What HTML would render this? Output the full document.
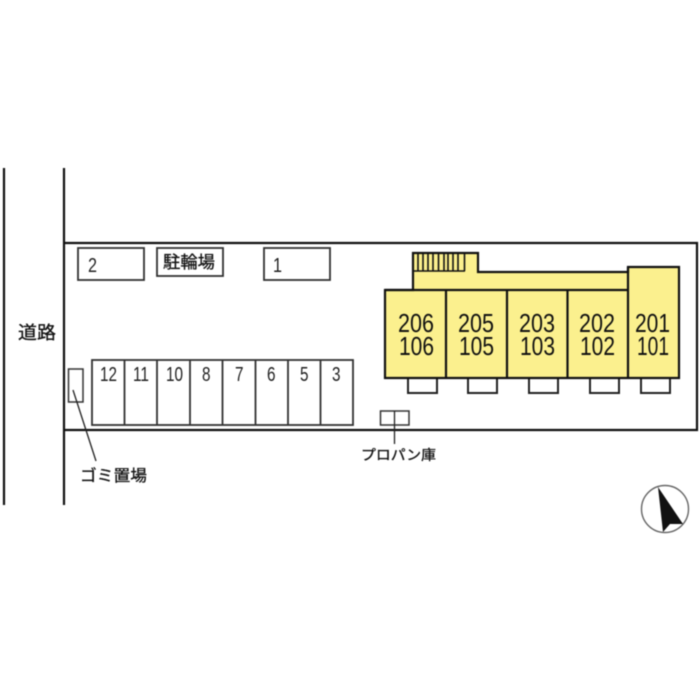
<!DOCTYPE html>
<html><head><meta charset="utf-8"><style>
html,body{margin:0;padding:0;background:#fff}
svg{display:block;filter:blur(.4px)}
text{font-family:"Liberation Sans","Noto Sans CJK JP",sans-serif;fill:#111}
.u{font-size:26px}
.p{font-size:20px;fill:#222}
.j{font-size:16px;stroke:#222;stroke-width:.35px}
</style></head><body>
<svg width="700" height="700" viewBox="0 0 700 700" xmlns="http://www.w3.org/2000/svg">
<rect width="700" height="700" fill="#fff"/>
<g fill="none" stroke="#111" stroke-width="2.200">
<path d="M4 168V505M64 168V505"/>
<path d="M64 243H697V430H64"/>
</g>
<g fill="#fff" stroke="#333" stroke-width="1.800">
<rect x="78" y="248" width="66" height="32"/>
<rect x="157" y="248" width="66" height="28"/>
<rect x="264" y="248" width="66" height="32"/>
<rect x="92" y="360" width="261" height="65"/>
<path d="M124.500 360V425M157 360V425M190 360V425M222.500 360V425M255.500 360V425M288 360V425M320.500 360V425"/>
</g>
<text class="p" x="88" y="272" textLength="9" lengthAdjust="spacingAndGlyphs">2</text>
<text class="p" x="273" y="272" textLength="9" lengthAdjust="spacingAndGlyphs">1</text>
<text class="j" x="163" y="268" textLength="52" lengthAdjust="spacingAndGlyphs" style="font-size:17px">駐輪場</text>
<g>
<text class="p" x="100" y="381" textLength="17" lengthAdjust="spacingAndGlyphs">12</text>
<text class="p" x="133" y="381" textLength="16" lengthAdjust="spacingAndGlyphs">11</text>
<text class="p" x="166" y="381" textLength="17" lengthAdjust="spacingAndGlyphs">10</text>
<text class="p" x="202" y="381" textLength="8.500" lengthAdjust="spacingAndGlyphs">8</text>
<text class="p" x="235" y="381" textLength="8.500" lengthAdjust="spacingAndGlyphs">7</text>
<text class="p" x="267" y="381" textLength="8.500" lengthAdjust="spacingAndGlyphs">6</text>
<text class="p" x="300" y="381" textLength="8.500" lengthAdjust="spacingAndGlyphs">5</text>
<text class="p" x="332" y="381" textLength="8.500" lengthAdjust="spacingAndGlyphs">3</text>
</g>
<rect x="68.500" y="369" width="14.500" height="33" fill="#fff" stroke="#333" stroke-width="1.500"/>
<path d="M73 390L96 461" stroke="#222" stroke-width="1.300"/>
<text class="j" x="80" y="481" textLength="67" lengthAdjust="spacingAndGlyphs">ゴミ置場</text>
<text class="j" x="18" y="339" textLength="38" lengthAdjust="spacingAndGlyphs" style="font-size:18px">道路</text>
<g fill="#fff" stroke="#222" stroke-width="2">
<rect x="408" y="378" width="29" height="15"/>
<rect x="468" y="378" width="29" height="15"/>
<rect x="529" y="378" width="29" height="15"/>
<rect x="590" y="378" width="29" height="15"/>
<rect x="641" y="378" width="29" height="15"/>
</g>
<path d="M413 290V253H478V272H628V267H679V378H385V290Z" fill="#fbf08e" stroke="#111" stroke-width="2.200"/>
<g fill="none" stroke="#111" stroke-width="2.200">
<path d="M385 290H628M446 290V378M507 290V378M567.500 290V378M628 267V378"/>
</g>
<g fill="none" stroke="#111" stroke-width="1.600">
<path d="M413 271H465M418 253V271M423 253V271M428 253V271M433 253V271M438.500 253V271M444 253V271M448 253V271M453 253V271M458 253V271M464.500 253V271"/>
</g>
<g>
<text class="u" x="398" y="332" textLength="36" lengthAdjust="spacingAndGlyphs">206</text><text class="u" x="399" y="355" textLength="35" lengthAdjust="spacingAndGlyphs">106</text>
<text class="u" x="458" y="332" textLength="36" lengthAdjust="spacingAndGlyphs">205</text><text class="u" x="459" y="355" textLength="35" lengthAdjust="spacingAndGlyphs">105</text>
<text class="u" x="519" y="332" textLength="36" lengthAdjust="spacingAndGlyphs">203</text><text class="u" x="520" y="355" textLength="35" lengthAdjust="spacingAndGlyphs">103</text>
<text class="u" x="579" y="332" textLength="36" lengthAdjust="spacingAndGlyphs">202</text><text class="u" x="580" y="355" textLength="35" lengthAdjust="spacingAndGlyphs">102</text>
<text class="u" x="635" y="332" textLength="35" lengthAdjust="spacingAndGlyphs">201</text><text class="u" x="637" y="355" textLength="32" lengthAdjust="spacingAndGlyphs">101</text>
</g>
<rect x="380.500" y="411" width="28.500" height="14" fill="#fff" stroke="#333" stroke-width="1.500"/>
<path d="M394.500 411V444" stroke="#222" stroke-width="1.300"/>
<text class="j" x="361" y="460" textLength="75" lengthAdjust="spacingAndGlyphs" style="font-size:14px">プロパン庫</text>
<circle cx="665" cy="509" r="23.500" fill="#fff" stroke="#666" stroke-width="1.400"/>
<path d="M658 487L683 524L670 524L663 532Z" fill="#111"/>
</svg>
</body></html>
